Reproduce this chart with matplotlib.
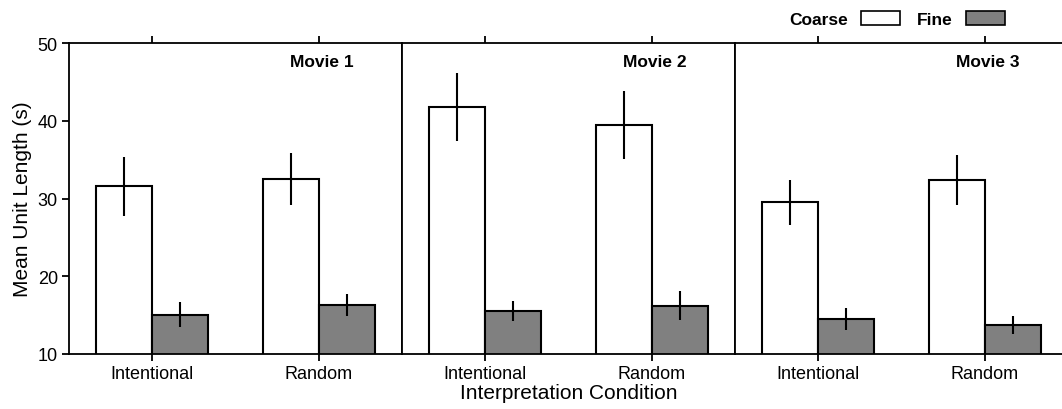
import matplotlib
matplotlib.use("Agg")
import matplotlib.pyplot as plt
from matplotlib.patches import Patch
import numpy as np

plt.rcParams['font.family'] = ['Liberation Sans', 'DejaVu Sans']

movies = ["Movie 1", "Movie 2", "Movie 3"]
conditions = ["Intentional", "Random"]

# Mean unit length (s) per movie, per condition
coarse_mean = [[31.6, 32.5], [41.8, 39.5], [29.5, 32.4]]
coarse_err = [[3.8, 3.4], [4.4, 4.4], [2.9, 3.2]]
fine_mean = [[15.0, 16.3], [15.5, 16.2], [14.5, 13.7]]
fine_err = [[1.6, 1.45], [1.35, 1.9], [1.45, 1.15]]

fig = plt.figure(figsize=(10.62, 4.10), dpi=100)

W, H = 1062, 410
panel_w = 333
left0 = 69
bottom = (H - 354.7) / H
height = 310.4 / H
bar_w = 0.336
gray = "#808080"
fs_tick = 13
fs_label = 15
fs_title = 12.5

x = np.array([0.5, 1.5])
axes = []
for i, movie in enumerate(movies):
    ax = fig.add_axes([(left0 + i * panel_w) / W, bottom, panel_w / W, height])
    axes.append(ax)
    ax.bar(x - bar_w / 2, coarse_mean[i], bar_w, color="white", edgecolor="black",
           linewidth=1.5, zorder=2)
    ax.bar(x + bar_w / 2, fine_mean[i], bar_w, color=gray, edgecolor="black",
           linewidth=1.5, zorder=2)
    ax.errorbar(x - bar_w / 2, coarse_mean[i], yerr=coarse_err[i], fmt="none",
                ecolor="black", elinewidth=1.5, capsize=0, zorder=3)
    ax.errorbar(x + bar_w / 2, fine_mean[i], yerr=fine_err[i], fmt="none",
                ecolor="black", elinewidth=1.5, capsize=0, zorder=3)
    ax.set_xlim(0, 2)
    ax.set_ylim(10, 50)
    ax.set_xticks(x)
    ax.set_xticklabels(conditions, fontsize=fs_tick)
    ax.tick_params(axis="x", direction="out", length=5, width=1.3, top=True,
                   pad=3)
    for s in ax.spines.values():
        s.set_linewidth(1.3)
    ax.text(1.52, 47.7, movie, ha="center", va="center", fontsize=fs_title,
            fontweight="bold")
    if i == 0:
        ax.set_yticks([10, 20, 30, 40, 50])
        ax.tick_params(axis="y", direction="out", length=5, width=1.3,
                       labelsize=fs_tick, pad=3)
        ax.set_ylabel("Mean Unit Length (s)", fontsize=fs_label, labelpad=4)
    else:
        ax.set_yticks([])
    if i == 1:
        ax.set_xlabel("Interpretation Condition", fontsize=fs_label, labelpad=1)

handles = [Patch(facecolor="white", edgecolor="black", linewidth=1.2),
           Patch(facecolor=gray, edgecolor="black", linewidth=1.2)]
fig.legend(handles, ["Coarse", "Fine"], ncol=2, frameon=False,
           markerfirst=False, loc="center right",
           bbox_to_anchor=(1005 / W, 1 - 20 / H),
           prop={"size": 12.5, "weight": "bold"},
           handlelength=2.24, handleheight=0.92, handletextpad=0.75,
           columnspacing=1.0, borderaxespad=0, borderpad=0)

fig.savefig("out.png", dpi=100)
